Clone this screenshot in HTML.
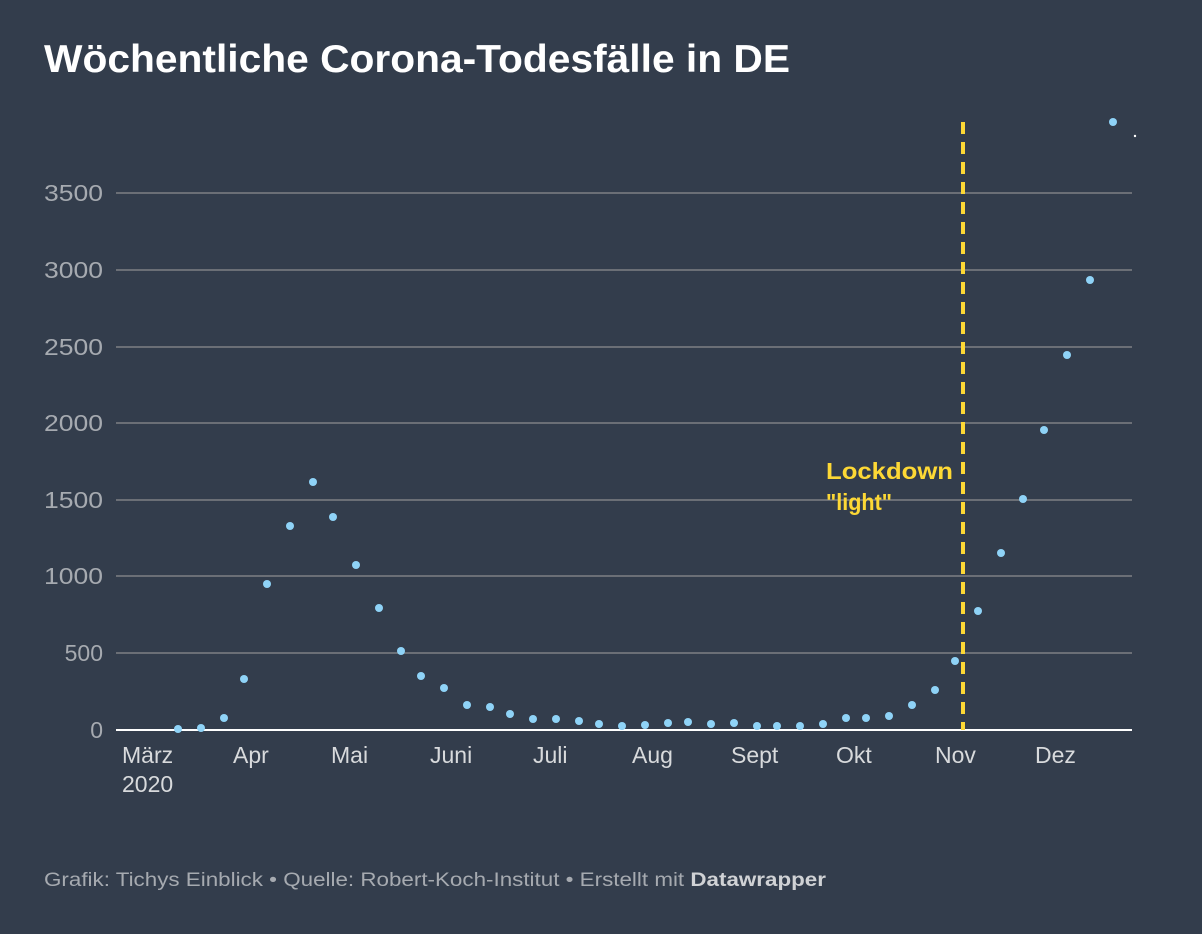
<!DOCTYPE html>
<html><head><meta charset="utf-8"><style>
body{margin:0;background:#333d4c;width:1202px;height:934px;overflow:hidden;font-family:"Liberation Sans",sans-serif}
</style></head><body>
<svg width="1202" height="934" xmlns="http://www.w3.org/2000/svg" style="position:absolute;left:0;top:0">
<rect width="1202" height="934" fill="#333d4c"/>
<text x="44" y="72" fill="#fff" font-size="39" font-weight="bold" textLength="746" lengthAdjust="spacingAndGlyphs" font-family="Liberation Sans,sans-serif">Wöchentliche Corona-Todesfälle in DE</text>
<g stroke="#6b6f76" stroke-width="2">
<line x1="116" x2="1132" y1="193" y2="193"/><line x1="116" x2="1132" y1="270" y2="270"/>
<line x1="116" x2="1132" y1="347" y2="347"/><line x1="116" x2="1132" y1="423" y2="423"/>
<line x1="116" x2="1132" y1="500" y2="500"/><line x1="116" x2="1132" y1="576" y2="576"/>
<line x1="116" x2="1132" y1="653" y2="653"/>
</g>
<line x1="116" x2="1132" y1="730" y2="730" stroke="#fff" stroke-width="2"/>
<g fill="#a6aab0" font-size="23" text-anchor="end" font-family="Liberation Sans,sans-serif">
<text x="103" y="201" textLength="59" lengthAdjust="spacingAndGlyphs">3500</text><text x="103" y="278" textLength="59" lengthAdjust="spacingAndGlyphs">3000</text><text x="103" y="355" textLength="59" lengthAdjust="spacingAndGlyphs">2500</text>
<text x="103" y="431" textLength="59" lengthAdjust="spacingAndGlyphs">2000</text><text x="103" y="508" textLength="59" lengthAdjust="spacingAndGlyphs">1500</text><text x="103" y="584" textLength="59" lengthAdjust="spacingAndGlyphs">1000</text>
<text x="103" y="661">500</text><text x="103" y="738">0</text>
</g>
<g fill="#d8dadc" font-size="23" font-family="Liberation Sans,sans-serif">
<text x="122" y="763">März</text><text x="122" y="792">2020</text>
<text x="233" y="763">Apr</text><text x="331" y="763">Mai</text><text x="430" y="763">Juni</text>
<text x="533" y="763">Juli</text><text x="632" y="763">Aug</text><text x="731" y="763">Sept</text>
<text x="836" y="763">Okt</text><text x="935" y="763">Nov</text><text x="1035" y="763">Dez</text>
</g>
<line x1="963" x2="963" y1="122" y2="730" stroke="#fdd835" stroke-width="4" stroke-dasharray="12,8"/>
<g fill="#fdd835" font-size="23" font-weight="bold" font-family="Liberation Sans,sans-serif">
<text x="826" y="479" textLength="127" lengthAdjust="spacingAndGlyphs">Lockdown</text><text x="826" y="510" textLength="66" lengthAdjust="spacingAndGlyphs">"light"</text>
</g>
<g fill="#8fd3f7">
<circle cx="178" cy="729" r="4"/><circle cx="201" cy="728" r="4"/><circle cx="224" cy="718" r="4"/>
<circle cx="244" cy="679" r="4"/><circle cx="267" cy="584" r="4"/><circle cx="290" cy="526" r="4"/>
<circle cx="313" cy="482" r="4"/><circle cx="333" cy="517" r="4"/><circle cx="356" cy="565" r="4"/>
<circle cx="379" cy="608" r="4"/><circle cx="401" cy="651" r="4"/><circle cx="421" cy="676" r="4"/>
<circle cx="444" cy="688" r="4"/><circle cx="467" cy="705" r="4"/><circle cx="490" cy="707" r="4"/>
<circle cx="510" cy="714" r="4"/><circle cx="533" cy="719" r="4"/><circle cx="556" cy="719" r="4"/>
<circle cx="579" cy="721" r="4"/><circle cx="599" cy="724" r="4"/><circle cx="622" cy="726" r="4"/>
<circle cx="645" cy="725" r="4"/><circle cx="668" cy="723" r="4"/><circle cx="688" cy="722" r="4"/>
<circle cx="711" cy="724" r="4"/><circle cx="734" cy="723" r="4"/><circle cx="757" cy="726" r="4"/>
<circle cx="777" cy="726" r="4"/><circle cx="800" cy="726" r="4"/><circle cx="823" cy="724" r="4"/>
<circle cx="846" cy="718" r="4"/><circle cx="866" cy="718" r="4"/><circle cx="889" cy="716" r="4"/>
<circle cx="912" cy="705" r="4"/><circle cx="935" cy="690" r="4"/><circle cx="955" cy="661" r="4"/>
<circle cx="978" cy="611" r="4"/><circle cx="1001" cy="553" r="4"/><circle cx="1023" cy="499" r="4"/>
<circle cx="1044" cy="430" r="4"/><circle cx="1067" cy="355" r="4"/><circle cx="1090" cy="280" r="4"/>
<circle cx="1113" cy="122" r="4"/>
</g>
<circle cx="1135" cy="136" r="1.2" fill="#fff"/>
<text x="44" y="886" fill="#a6aab0" font-size="19" textLength="782" lengthAdjust="spacingAndGlyphs" font-family="Liberation Sans,sans-serif">Grafik: Tichys Einblick • Quelle: Robert-Koch-Institut • Erstellt mit <tspan font-weight="bold" fill="#d0d2d5">Datawrapper</tspan></text>
</svg>
</body></html>
